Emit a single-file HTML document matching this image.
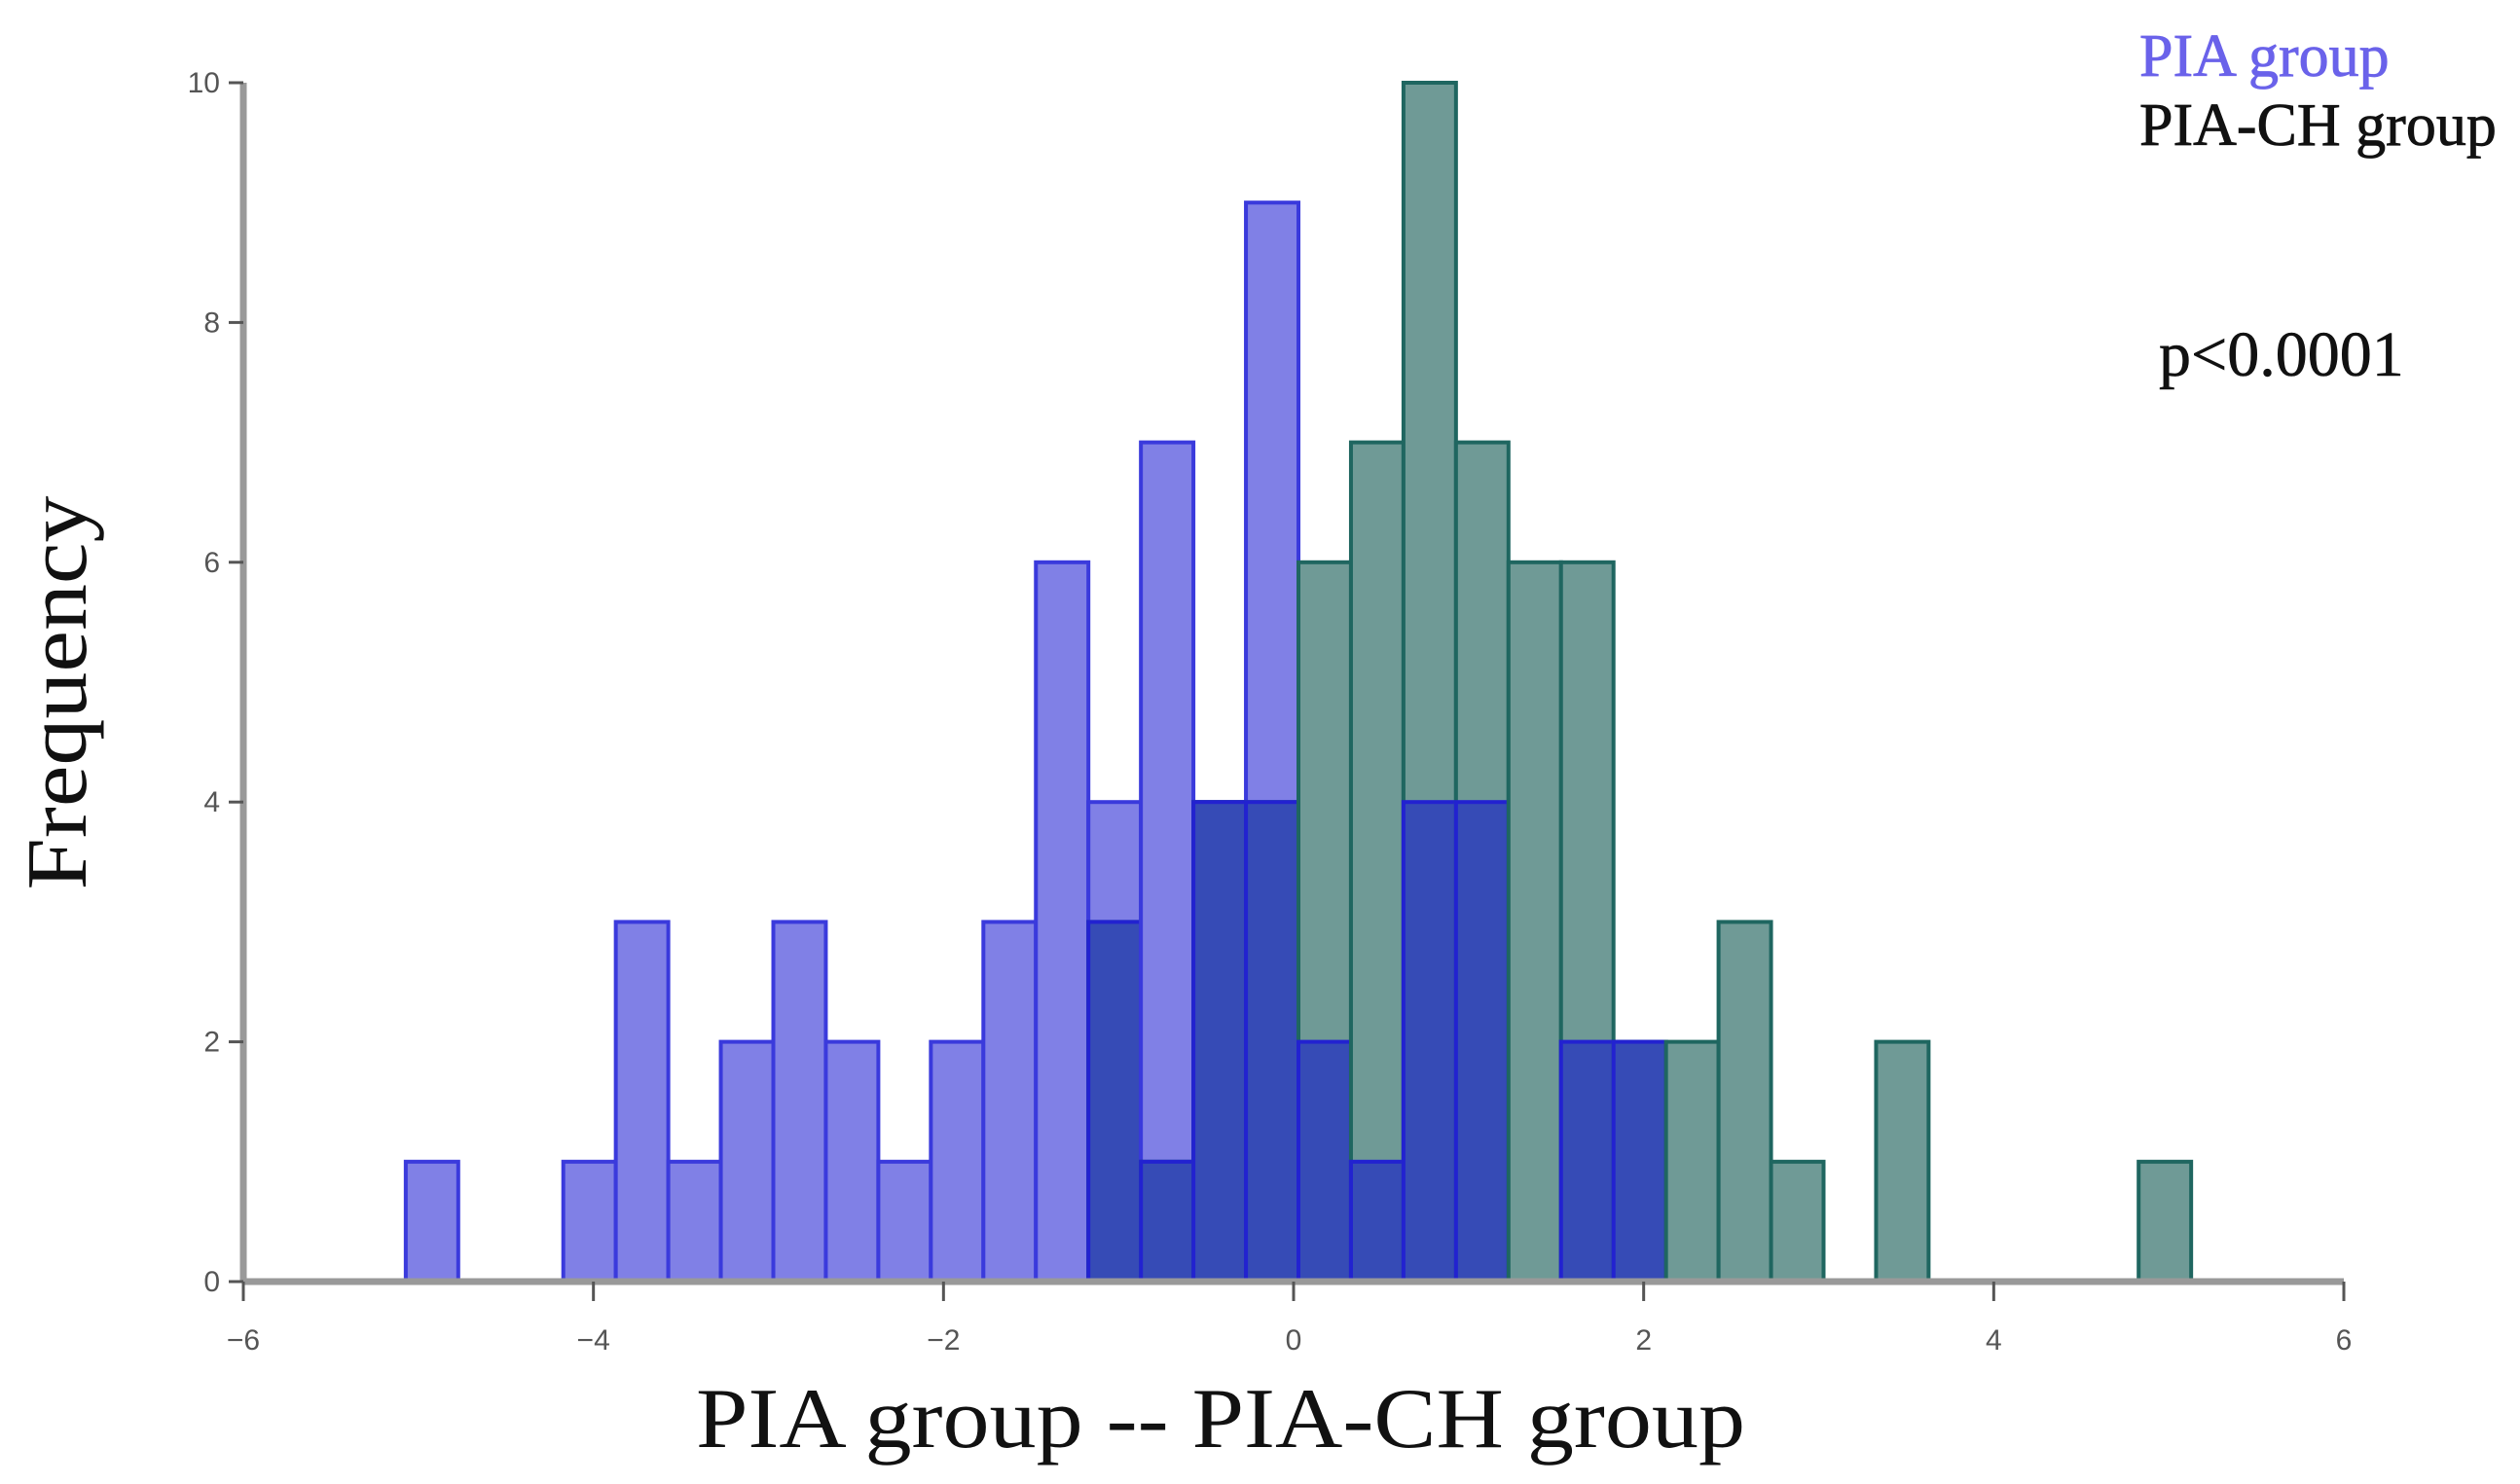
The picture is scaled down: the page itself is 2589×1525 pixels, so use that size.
<!DOCTYPE html>
<html><head><meta charset="utf-8"><style>
html,body{margin:0;padding:0;background:#fff;}
svg{display:block;}
</style></head><body>
<svg id="chart" width="2589" height="1525" xmlns="http://www.w3.org/2000/svg">
<g id="bars"></g>
<g id="axes"></g>
<text x="2198" y="78" font-family="Liberation Serif, serif" font-size="62" fill="#6a62ea" stroke="#6a62ea" stroke-width="0.8">PIA group</text>
<text x="2198" y="149" font-family="Liberation Serif, serif" font-size="62" fill="#111" stroke="#111" stroke-width="0.8">PIA-CH group</text>
<text x="2218" y="386" font-family="Liberation Serif, serif" font-size="66" fill="#111" stroke="#111" stroke-width="0.6">p&lt;0.0001</text>
<text transform="translate(88,712) rotate(-90)" text-anchor="middle" font-family="Liberation Serif, serif" font-size="88" fill="#111" textLength="405" lengthAdjust="spacingAndGlyphs">Frequency</text>
<text x="1254" y="1487" text-anchor="middle" font-family="Liberation Serif, serif" font-size="88" fill="#111" textLength="1078" lengthAdjust="spacingAndGlyphs">PIA group -- PIA-CH group</text>
</svg>
<script>
const binStarts = [-5.1,-4.8,-4.5,-4.2,-3.9,-3.6,-3.3,-3.0,-2.7,-2.4,-2.1,-1.8,-1.5,-1.2,-0.9,-0.6,-0.3,0,0.3,0.6,0.9,1.2,1.5,1.8,2.1,2.4,2.7,3.0,3.3,3.6,3.9,4.2,4.5,4.8];
const piaCounts   = [1,0,0,1,3,1,2,3,2,1,2,3,6,4,7,4,9,2,1,4,4,0,2,2,0,0,0,0,0,0,0,0,0,0];
const piaChCounts = [0,0,0,0,0,0,0,0,0,0,0,0,0,3,1,4,4,6,7,10,7,6,6,2,2,3,1,0,2,0,0,0,0,1];
const binWidth = 0.3;
const xTicks = [-6,-4,-2,0,2,4,6];
const yTicks = [0,2,4,6,8,10];
const NS='http://www.w3.org/2000/svg';
const X0=250,X1=2408,Y0=1317,Y1=85;
const xs=v=>X0+(v+6)/12*(X1-X0);
const ys=v=>Y0-v/10*(Y0-Y1);
const BAR_SHIFT=5;
const bars=document.getElementById('bars');
function rect(x0,x1,h,fill,stroke){
  const r=document.createElementNS(NS,'rect');
  r.setAttribute('x',xs(x0)+BAR_SHIFT);r.setAttribute('width',xs(x1)-xs(x0));
  r.setAttribute('y',ys(h));r.setAttribute('height',ys(0)-ys(h));
  r.setAttribute('fill',fill);r.setAttribute('stroke',stroke);r.setAttribute('stroke-width','4');
  bars.appendChild(r);return r;
}
binStarts.forEach((s,i)=>{
  const b=piaCounts[i],t=piaChCounts[i];
  if(b>0){const r=rect(s,s+binWidth,b,'#8080e6','#3a3adc');
    
    }
  if(t>0){const r=rect(s,s+binWidth,t,'#6f9a96','#1f6660');
    
    }
  const m=Math.min(b,t);
  if(m>0){const r=rect(s,s+binWidth,m,'#364bb6','#2222d0');
    
    }
});
const axes=document.getElementById('axes');
function line(x1,y1,x2,y2,w,c){const l=document.createElementNS(NS,'line');
  l.setAttribute('x1',x1);l.setAttribute('y1',y1);l.setAttribute('x2',x2);l.setAttribute('y2',y2);
  l.setAttribute('stroke',c);l.setAttribute('stroke-width',w);axes.appendChild(l);return l;}
function text(x,y,s,anchor){const t=document.createElementNS(NS,'text');
  t.setAttribute('x',x);t.setAttribute('y',y);t.setAttribute('text-anchor',anchor);
  t.setAttribute('font-family','Liberation Sans, sans-serif');t.setAttribute('font-size','30');
  t.setAttribute('fill','#555');t.textContent=s;axes.appendChild(t);return t;}
const ya=line(X0,Y1,X0,Y0,7,'#999');


const xa=line(X0,Y0,X1,Y0,7,'#999');


xTicks.forEach(v=>{line(xs(v),Y0,xs(v),Y0+20,3,'#555');
  const t=text(xs(v),1387,v<0?'\u2212'+(-v):String(v),'middle');
  
  });
yTicks.forEach(v=>{line(X0-15,ys(v),X0,ys(v),3,'#555');
  const t=text(226,ys(v)+10,String(v),'end');
  
  });
</script>
</body></html>
